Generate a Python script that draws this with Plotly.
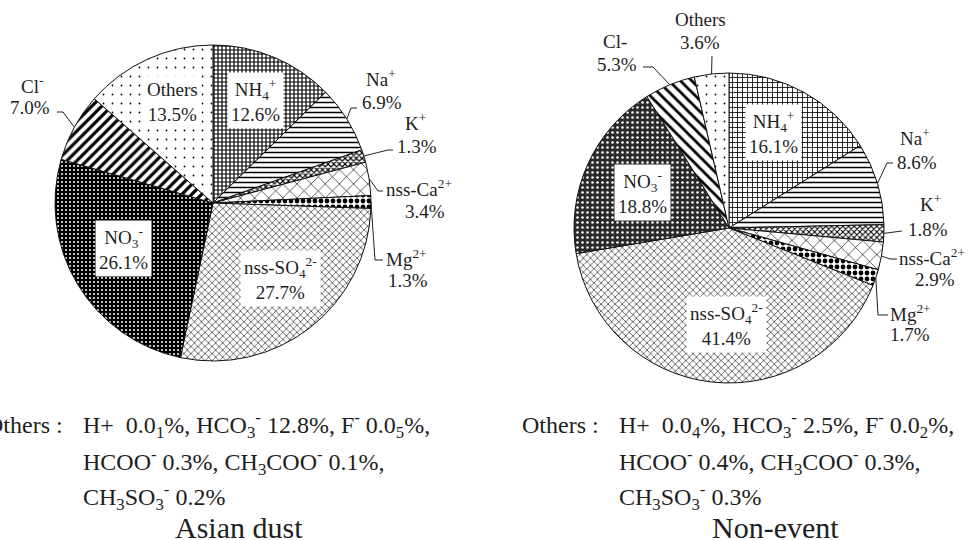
import math
import plotly.graph_objects as go

# ---------------- data ----------------
ions = ["NH4+", "Na+", "K+", "nss-Ca2+", "Mg2+", "nss-SO42-", "NO3-", "Cl-", "Others"]
pct_asian_dust = [12.6, 6.9, 1.3, 3.4, 1.3, 27.7, 26.1, 7.0, 13.5]
pct_non_event = [16.1, 8.6, 1.8, 2.9, 1.7, 41.4, 18.8, 5.3, 3.6]

names_html_asian = ["NH<sub>4</sub><sup>+</sup>", "Na<sup>+</sup>", "K<sup>+</sup>",
                    "nss-Ca<sup>2+</sup>", "Mg<sup>2+</sup>", "nss-SO<sub>4</sub><sup>2-</sup>",
                    "NO<sub>3</sub><sup>-</sup>", "Cl<sup>-</sup>", "Others"]
names_html_non = ["NH<sub>4</sub><sup>+</sup>", "Na<sup>+</sup>", "K<sup>+</sup>",
                  "nss-Ca<sup>2+</sup>", "Mg<sup>2+</sup>", "nss-SO<sub>4</sub><sup>2-</sup>",
                  "NO<sub>3</sub><sup>-</sup>", "Cl-", "Others"]

NB = "\u00a0"
others_asian = [["Others", ":", "H+" + NB * 2 + "0.0<sub>1</sub>%, HCO<sub>3</sub><sup>-</sup>" + NB + "12.8%, F<sup>-</sup>" + NB + "0.0<sub>5</sub>%,"],
                "HCOO<sup>-</sup> 0.3%, CH<sub>3</sub>COO<sup>-</sup> 0.1%,",
                "CH<sub>3</sub>SO<sub>3</sub><sup>-</sup> 0.2%"]
others_non = [["Others", ":", "H+" + NB * 2 + "0.0<sub>4</sub>%, HCO<sub>3</sub><sup>-</sup>" + NB + "2.5%, F<sup>-</sup>" + NB + "0.0<sub>2</sub>%,"],
              "HCOO<sup>-</sup> 0.4%, CH<sub>3</sub>COO<sup>-</sup> 0.3%,",
              "CH<sub>3</sub>SO<sub>3</sub><sup>-</sup> 0.3%"]
titles = ["Asian dust", "Non-event"]

# ---------------- layout constants ----------------
W, H = 973, 540
FONT = "Liberation Serif"
TXT = "#1e1e1e"
PIES = [
    dict(cx=213, cy=203, r=158, vals=pct_asian_dust, names=names_html_asian),
    dict(cx=729, cy=228, r=155, vals=pct_non_event, names=names_html_non),
]


def px(x, y):
    return x / W, 1 - y / H


def edge_point(p, i):
    vals = p["vals"]
    tot = sum(vals)
    cum = sum(vals[:i]) + vals[i] / 2.0
    a = 2 * math.pi * cum / tot
    return p["cx"] + p["r"] * math.sin(a), p["cy"] - p["r"] * math.cos(a)


patterns = [
    dict(shape=["+", "-", "x", "x", ".", "x", ".", "/", "."],
         fgcolor=["#000", "#000", "#000", "#000", "#000", "#222", "#fff", "#000", "#000"],
         bgcolor=["#fff", "#fff", "#fff", "#fff", "#fff", "#fff", "#000", "#fff", "#fff"],
         size=[4, 5, 4, 10, 6, 5, 4, 7, 9],
         solidity=[0.5, 0.3, 0.5, 0.12, 0.5, 0.24, 0.2, 0.45, 0.03]),
    dict(shape=["+", "-", "x", "x", ".", "x", ".", "\\", "."],
         fgcolor=["#000", "#000", "#000", "#000", "#000", "#222", "#fff", "#000", "#000"],
         bgcolor=["#fff", "#fff", "#fff", "#fff", "#fff", "#fff", "#2a2a2a", "#fff", "#fff"],
         size=[5, 5, 4, 10, 6, 5, 5, 8, 9],
         solidity=[0.3, 0.3, 0.45, 0.12, 0.5, 0.24, 0.2, 0.35, 0.03]),
]

fig = go.Figure()
for p, pat in zip(PIES, patterns):
    x0, y1 = px(p["cx"] - p["r"], p["cy"] - p["r"])
    x1, y0 = px(p["cx"] + p["r"], p["cy"] + p["r"])
    fig.add_trace(go.Pie(
        labels=ions, values=p["vals"], sort=False, direction="clockwise", rotation=0,
        domain=dict(x=[x0, x1], y=[y0, y1]), textinfo="none", hoverinfo="label+percent",
        marker=dict(colors=pat["bgcolor"], line=dict(color="#111", width=1), pattern=pat),
        showlegend=False,
    ))

annotations = []
shapes = []


def add_text(x, y, text, size=19, xanchor="center", box=False):
    xx, yy = px(x, y)
    d = dict(x=xx, y=yy, xref="paper", yref="paper", text=text, showarrow=False,
             xanchor=xanchor, yanchor="middle", font=dict(family=FONT, size=size, color=TXT))
    if box:
        d.update(bgcolor="white", borderpad=3)
    annotations.append(d)


def add_leader(p, i, pts):
    ex, ey = edge_point(p, i)
    coords = [(ex, ey)] + pts
    path = ""
    for k, (x, y) in enumerate(coords):
        xx, yy = px(x, y)
        path += ("M" if k == 0 else " L") + f"{xx:.5f},{yy:.5f}"
    shapes.append(dict(type="path", xref="paper", yref="paper", path=path,
                       line=dict(color="#222", width=1)))


def pct(v):
    return f"{v:.1f}%"


# ---- Asian dust labels ----
pA = PIES[0]
vA, nA = pA["vals"], pA["names"]
add_text(255, 101, nA[0] + "<br>" + pct(vA[0]), box=True)
add_text(172, 102, nA[8] + "<br>" + pct(vA[8]), box=True)
add_text(123, 248, nA[6] + "<br>" + pct(vA[6]), box=True)
add_text(280, 278, nA[5] + "<br>" + pct(vA[5]), box=True)
add_text(381, 78, nA[1]); add_text(382, 102, pct(vA[1]))
add_leader(pA, 1, [(351, 108), (357, 108)])
add_text(415, 122, nA[2]); add_text(417, 146, pct(vA[2]))
add_leader(pA, 2, [(388, 150), (393, 150)])
add_text(384, 188, nA[3], xanchor="left"); add_text(425, 211, pct(vA[3]))
add_leader(pA, 3, [(378, 191), (383, 191)])
add_text(384, 258, nA[4], xanchor="left"); add_text(408, 280, pct(vA[4]))
add_leader(pA, 4, [(375, 260), (383, 260)])
add_text(32, 85, nA[7]); add_text(30, 107, pct(vA[7]))
add_leader(pA, 7, [(63, 112), (57, 112)])

# ---- Non-event labels ----
pN = PIES[1]
vN, nN = pN["vals"], pN["names"]
add_text(773, 132, nN[0] + "<br>" + pct(vN[0]), box=True)
add_text(642, 192, nN[6] + "<br>" + pct(vN[6]), box=True)
add_text(726, 324, nN[5] + "<br>" + pct(vN[5]), box=True)
add_text(700, 20, nN[8]); add_text(700, 43, pct(vN[8]))
add_leader(pN, 8, [(712, 56)])
add_text(615, 42, nN[7]); add_text(617, 65, pct(vN[7]))
add_leader(pN, 7, [(653, 67), (643, 67)])
add_text(915, 137, nN[1]); add_text(917, 163, pct(vN[1]))
add_leader(pN, 1, [(887, 163), (893, 163)])
add_text(930, 203, nN[2]); add_text(928, 229, pct(vN[2]))
add_leader(pN, 2, [(902, 231)])
add_text(897, 257, nN[3], xanchor="left"); add_text(935, 279, pct(vN[3]))
add_leader(pN, 3, [(890, 259), (897, 259)])
add_text(888, 313, nN[4], xanchor="left"); add_text(910, 334, pct(vN[4]))
add_leader(pN, 4, [(878, 315), (888, 315)])

# ---- bottom notes and titles ----
for lines, xo, xh, xc, title in [(others_asian, -16, 81, 239, titles[0]),
                                  (others_non, 520, 617, 775, titles[1])]:
    add_text(xo, 425, lines[0][0], size=24, xanchor="left")
    add_text(xh - 22, 425, lines[0][1], size=24)
    add_text(xh, 425, lines[0][2], size=24, xanchor="left")
    add_text(xh, 462, lines[1], size=24, xanchor="left")
    add_text(xh, 497, lines[2], size=24, xanchor="left")
    add_text(xc, 527, title, size=30)

fig.update_layout(
    width=W, height=H, margin=dict(l=0, r=0, t=0, b=0),
    paper_bgcolor="white", plot_bgcolor="white",
    font=dict(family=FONT),
    annotations=annotations, shapes=shapes,
)
fig.write_html("out.html")
